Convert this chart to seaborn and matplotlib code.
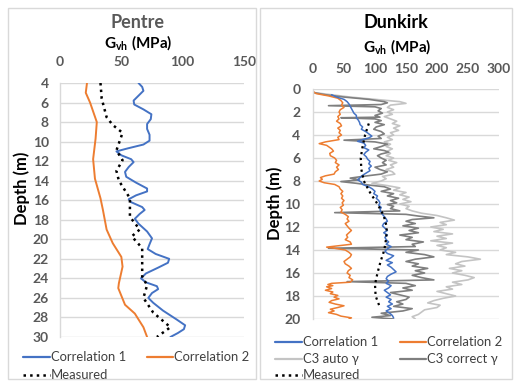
import matplotlib
matplotlib.use("Agg")
import matplotlib.pyplot as plt
from matplotlib.lines import Line2D
from matplotlib.patches import Rectangle
import seaborn as sns

sns.set_theme(style="white")
FONT = "Lato"
plt.rcParams["font.family"] = [FONT, "DejaVu Sans"]
plt.rcParams["mathtext.fontset"] = "custom"
plt.rcParams["mathtext.rm"] = FONT
plt.rcParams["mathtext.bf"] = FONT + ":bold"

# ---------------- Pentre data ----------------
pentre_corr1_depth = [4.0, 4.4, 4.8, 5.3, 5.8, 6.2, 6.7, 7.2, 7.7, 8.2, 8.7, 9.3, 9.9, 10.3, 10.7, 11.0, 11.4, 11.8, 12.1,
                      12.6, 13.1, 13.6, 14.2, 14.8, 15.1, 15.5, 15.9, 16.2, 16.7, 17.0, 17.4, 17.9, 18.4, 19.2, 19.9,
                      20.5, 21.0, 21.5, 22.0, 22.4, 22.9, 23.5, 24.0, 24.4, 24.8, 25.1, 25.5, 26.0, 26.5, 27.3, 28.2,
                      28.8, 29.2, 29.6, 30.0]
pentre_corr1_val = [64, 67, 68, 64, 60, 60.5, 68, 74.5, 74, 71, 71, 73, 73, 68, 55, 46, 50, 58, 60,
                    56, 53, 54, 62, 71, 71, 62, 56, 58, 67, 69, 65, 61, 64, 71, 75,
                    73, 71.5, 78, 89, 88, 80, 70, 66, 70, 79, 80, 75, 72, 76, 84, 95,
                    102, 101, 96, 90]

pentre_corr2_depth = [4, 5, 6, 8, 9.7, 11.8, 13.8, 15.8, 17, 19, 20.4, 21.8, 22.8, 24.5, 25, 26.7, 27.6, 29, 30]
pentre_corr2_val = [22, 21, 24.5, 30, 29, 27, 28.5, 33, 35, 38, 43, 50, 51, 48, 47.5, 53, 61, 68, 71]

pentre_meas_depth = [4, 5.6, 7.5, 8.3, 9.1, 10.9, 11.9, 13.0, 14.0, 15.8, 17.7, 19.0, 19.7, 20.9, 23.8, 24.7, 26.0, 27.5, 29.0, 30.0]
pentre_meas_val = [33, 34, 38, 43, 51, 46, 51, 46, 48, 57, 57, 65, 58.5, 67, 67, 71, 68, 76, 90, 79]

# ---------------- Dunkirk data ----------------
dk_corr1_depth = [0.5, 0.7, 0.9, 1.1, 1.3, 1.5, 1.7, 1.9, 2.1, 2.3, 2.5, 2.7, 2.9, 3.1, 3.3, 3.5, 3.7, 3.9, 4.1, 4.25, 4.4, 4.55, 4.7, 4.9,
                  5.1, 5.3, 5.5, 5.7, 5.9, 6.1, 6.3, 6.5, 6.7, 6.9, 7.1, 7.3, 7.5, 7.7, 7.9, 8.1, 8.3, 8.5, 8.7, 8.9, 9.1, 9.3,
                  9.5, 9.7, 9.9, 10.1, 10.3, 10.5, 10.7, 10.9, 11.1, 11.3, 11.5, 11.7, 11.9, 12.1, 12.3, 12.5, 12.7, 12.9, 13.1,
                  13.3, 13.5, 13.7, 13.9, 14.1, 14.3, 14.5, 14.7, 14.9, 15.1, 15.3, 15.5, 15.7, 15.9, 16.1, 16.3, 16.5, 16.7,
                  16.9, 17.1, 17.3, 17.5, 17.7, 17.9, 18.1, 18.3, 18.5, 18.7, 18.9, 19.1, 19.3, 19.5, 19.7, 19.9]
dk_corr1_val = [30, 38, 50, 55, 58, 60, 62, 64, 66, 70, 70, 73, 75, 76, 80, 78, 85, 90, 95, 90, 80, 72, 82, 85,
                82, 90, 85, 82, 86, 88, 92, 90, 94, 90, 92, 86, 80, 76, 72, 78, 80, 90, 96, 100, 98, 104,
                102, 106, 108, 106, 110, 108, 110, 112, 115, 118, 120, 114, 112, 116, 120, 114, 120, 116, 118,
                122, 118, 126, 120, 116, 120, 130, 125, 118, 128, 120, 126, 130, 134, 126, 120, 118, 122,
                118, 126, 122, 115, 120, 125, 118, 126, 122, 128, 120, 126, 118, 124, 128, 130]

dk_corr2_depth = [0.2, 0.4, 0.6, 0.8, 1.0, 1.2, 1.4, 1.6, 1.8, 2.0, 2.2, 2.4, 2.6, 2.8, 3.0, 3.2, 3.4, 3.6, 3.8, 4.0, 4.2, 4.4,
                  4.6, 4.75, 4.9, 5.05, 5.2, 5.4, 5.6, 5.8, 6.0, 6.2, 6.4, 6.6, 6.8, 7.0, 7.2, 7.4, 7.55, 7.7, 7.85, 8.0,
                  8.15, 8.3, 8.5, 8.7, 8.9, 9.1, 9.3, 9.5, 9.7, 9.9, 10.1, 10.3, 10.5, 10.7, 10.9, 11.1, 11.3, 11.5, 11.7,
                  11.9, 12.1, 12.3, 12.5, 12.7, 12.9, 13.1, 13.3, 13.5, 13.65, 13.75, 13.85, 14.0, 14.2, 14.4, 14.6, 14.8,
                  15.0, 15.2, 15.4, 15.6, 15.8, 16.0, 16.2, 16.4, 16.6, 16.8, 16.9, 17.0, 17.1, 17.2, 17.35, 17.5, 17.65,
                  17.8, 17.95, 18.1, 18.25, 18.4, 18.55, 18.7, 18.85, 19.0, 19.15, 19.3, 19.45, 19.6, 19.75, 19.9, 20.0]
dk_corr2_val = [0, 5, 25, 40, 45, 48, 46, 50, 44, 42, 44, 40, 42, 38, 44, 46, 40, 44, 42, 46, 40, 42,
                20, 10, 22, 26, 30, 33, 27, 28, 35, 38, 36, 42, 38, 41, 36, 34, 20, 12, 15, 10,
                18, 35, 42, 44, 48, 45, 48, 46, 50, 47, 49, 44, 47, 45, 52, 57, 55, 58, 52,
                55, 58, 62, 58, 54, 56, 52, 60, 62, 38, 22, 35, 52, 58, 62, 60, 55,
                50, 52, 58, 62, 57, 55, 60, 58, 64, 60, 30, 24, 32, 22, 30, 20, 32,
                28, 40, 34, 42, 30, 26, 36, 50, 40, 28, 34, 25, 38, 45, 62, 58]

dk_auto_depth = [0.3, 0.5, 0.7, 0.9, 1.1, 1.25, 1.4, 1.6, 1.8, 2.0, 2.2, 2.4, 2.6, 2.8, 3.0, 3.2, 3.4, 3.6, 3.8, 4.0, 4.2, 4.4,
                 4.6, 4.8, 5.0, 5.2, 5.4, 5.6, 5.8, 6.0, 6.2, 6.4, 6.6, 6.8, 7.0, 7.2, 7.4, 7.6, 7.8, 8.0, 8.2, 8.4, 8.6,
                 8.8, 9.0, 9.2, 9.4, 9.6, 9.8, 10.0, 10.2, 10.4, 10.6, 10.8, 11.0, 11.2, 11.4, 11.6, 11.8, 12.0, 12.2,
                 12.4, 12.6, 12.8, 13.0, 13.2, 13.4, 13.6, 13.8, 14.0, 14.2, 14.4, 14.6, 14.8, 15.0, 15.2, 15.4, 15.6,
                 15.8, 16.0, 16.2, 16.4, 16.6, 16.8, 17.0, 17.2, 17.4, 17.6, 17.8, 18.0, 18.2, 18.4, 18.6, 18.8, 19.0,
                 19.2, 19.4, 19.6, 19.8, 20.0]
dk_auto_val = [0, 30, 60, 100, 140, 150, 125, 120, 130, 120, 128, 115, 125, 135, 128, 140, 130, 138, 125, 130, 120, 128,
               115, 125, 118, 128, 120, 125, 118, 130, 122, 135, 125, 130, 118, 128, 132, 112, 118, 110, 95, 120, 140,
               130, 150, 140, 155, 145, 158, 140, 155, 150, 160, 175, 200, 215, 228, 205, 215, 190, 210,
               195, 225, 200, 215, 190, 225, 200, 215, 205, 230, 215, 250, 270, 240, 230, 245, 220,
               240, 225, 245, 260, 250, 225, 240, 215, 225, 200, 215, 230, 210, 195, 185, 205, 200,
               180, 175, 170, 160, 165]

dk_correct_depth = [0.3, 0.5, 0.7, 0.9, 1.1, 1.2, 1.35, 1.45, 1.55, 1.7, 1.9, 2.1, 2.3, 2.45, 2.5, 2.6, 2.75, 2.9, 3.1, 3.3,
                    3.5, 3.7, 3.9, 4.1, 4.3, 4.45, 4.6, 4.8, 5.0, 5.2, 5.35, 5.5, 5.65, 5.8, 6.0, 6.2, 6.4, 6.6, 6.8,
                    7.0, 7.2, 7.4, 7.6, 7.75, 7.9, 8.05, 8.2, 8.35, 8.5, 8.7, 8.9, 9.1, 9.3, 9.5, 9.7, 9.9, 10.05, 10.2,
                    10.4, 10.6, 10.75, 10.9, 11.05, 11.2, 11.35, 11.5, 11.7, 11.9, 12.1, 12.3, 12.5, 12.7, 12.9, 13.1,
                    13.3, 13.5, 13.7, 13.85, 14.0, 14.2, 14.4, 14.6, 14.8, 15.0, 15.2, 15.4, 15.6, 15.8, 16.0, 16.2,
                    16.4, 16.6, 16.75, 16.9, 17.1, 17.3, 17.5, 17.7, 17.9, 18.1, 18.3, 18.5, 18.7, 18.9, 19.1, 19.3,
                    19.5, 19.7, 19.85, 20.0]
dk_correct_val = [0, 20, 50, 90, 115, 120, 110, 25, 100, 110, 105, 112, 100, 108, 45, 100, 110, 100, 115, 102,
                  98, 110, 115, 105, 110, 50, 100, 120, 110, 98, 115, 122, 110, 104, 110, 118, 112, 118, 100,
                  108, 120, 110, 80, 60, 75, 45, 70, 90, 115, 125, 110, 130, 120, 138, 125, 135, 120, 130,
                  125, 140, 35, 150, 170, 195, 160, 150, 165, 145, 170, 155, 170, 140, 160, 150,
                  178, 160, 165, 25, 170, 150, 180, 195, 165, 150, 170, 160, 185, 165, 180, 160,
                  175, 195, 55, 150, 165, 145, 160, 125, 140, 155, 150, 135, 145, 130, 160, 145,
                  110, 125, 95, 130]

dk_meas_depth = [3.0, 4.0, 5.0, 6.0, 7.0, 8.0, 9.0, 10.0, 11.0, 12.0, 13.0, 14.0, 15.0, 16.0, 17.0, 18.0, 19.0]
dk_meas_val = [90, 84, 80, 77, 78, 82, 92, 104, 114, 119, 118, 115, 109, 104, 100, 101, 108]

BLUE = "#4472C4"
ORANGE = "#ED7D31"
LGRAY = "#C4C4C4"
DGRAY = "#7F7F7F"
TXT = "#595959"
LEGTXT = "#404040"
GRID = "#D9D9D9"

W, H = 515, 383
fig = plt.figure(figsize=(W / 100, H / 100), dpi=100)
fig.patch.set_facecolor("white")


def fx(px):
    return px / W


def fy(py):
    return 1 - py / H


# panel borders
for x0, x1 in [(8, 256), (260, 512)]:
    fig.patches.append(Rectangle((fx(x0), fy(379)), fx(x1) - fx(x0), fy(8) - fy(379),
                                 transform=fig.transFigure, fill=False, edgecolor=GRID, lw=1.0))


def style_axes(ax, xmax, xstep, ymin, ymax, xpad, ypad):
    ax.set_xlim(0, xmax)
    ax.set_ylim(ymax, ymin)
    ax.set_xticks(list(range(0, xmax + 1, xstep)))
    ax.set_yticks(list(range(ymin, ymax + 1, 2)))
    ax.xaxis.tick_top()
    ax.tick_params(axis="both", length=0, labelsize=10, labelcolor=TXT)
    ax.tick_params(axis="x", pad=xpad)
    ax.tick_params(axis="y", pad=ypad)
    for lab in ax.get_xticklabels() + ax.get_yticklabels():
        lab.set_fontweight("bold")
    ax.grid(axis="y", color=GRID, lw=1.0)
    ax.grid(axis="x", visible=False)
    for s in ["top", "right", "bottom"]:
        ax.spines[s].set_visible(False)
    ax.spines["left"].set_color(GRID)
    ax.spines["left"].set_linewidth(1.0)
    ax.set_xlabel("")
    ax.set_ylabel("")


def draw(ax, x, y, color, lw, ls="-"):
    sns.lineplot(x=x, y=y, ax=ax, sort=False, estimator=None, color=color, lw=lw,
                 linestyle=ls, orient="y", legend=False)


def legend_entry(x0, x1, y, color, lw, ls, label):
    fig.add_artist(Line2D([fx(x0), fx(x1)], [fy(y), fy(y)], transform=fig.transFigure,
                          color=color, lw=lw, linestyle=ls))
    fig.text(fx(x1 + 1), fy(y), label, ha="left", va="center", fontsize=9.4, color=LEGTXT)


# ---------- Pentre ----------
axL = fig.add_axes([fx(60), fy(337), fx(244) - fx(60), fy(83) - fy(337)])
draw(axL, pentre_corr2_val, pentre_corr2_depth, ORANGE, 1.4)
draw(axL, pentre_corr1_val, pentre_corr1_depth, BLUE, 1.4)
draw(axL, pentre_meas_val, pentre_meas_depth, "black", 1.8, ":")
style_axes(axL, 150, 50, 4, 30, 11, 8)

fig.text(fx(138), fy(23), "Pentre", ha="center", va="center", fontsize=13, fontweight="bold", color=TXT)
fig.text(fx(138), fy(43), r"G$_{\mathbf{vh}}$ (MPa)", ha="center", va="center", fontsize=11,
         fontweight="bold", color="black")
fig.text(fx(22), fy(188), "Depth (m)", ha="center", va="center", rotation=90, fontsize=12,
         fontweight="bold", color="black")

legend_entry(23, 50, 357, BLUE, 1.6, "-", "Correlation 1")
legend_entry(147, 173, 357, ORANGE, 1.6, "-", "Correlation 2")
legend_entry(23, 50, 375, "black", 1.8, ":", "Measured")

# ---------- Dunkirk ----------
axR = fig.add_axes([fx(313), fy(319), fx(499) - fx(313), fy(89) - fy(319)])
draw(axR, dk_auto_val, dk_auto_depth, LGRAY, 1.2)
draw(axR, dk_correct_val, dk_correct_depth, DGRAY, 1.2)
draw(axR, dk_corr2_val, dk_corr2_depth, ORANGE, 1.1)
draw(axR, dk_corr1_val, dk_corr1_depth, BLUE, 1.1)
draw(axR, dk_meas_val, dk_meas_depth, "black", 1.6, ":")
style_axes(axR, 300, 50, 0, 20, 10, 9)

fig.text(fx(396), fy(22), "Dunkirk", ha="center", va="center", fontsize=13, fontweight="bold", color="black")
fig.text(fx(397), fy(47), r"G$_{\mathbf{vh}}$ (MPa)", ha="center", va="center", fontsize=11,
         fontweight="bold", color="black")
fig.text(fx(275), fy(203), "Depth (m)", ha="center", va="center", rotation=90, fontsize=12,
         fontweight="bold", color="black")

legend_entry(275, 302, 342, BLUE, 1.6, "-", "Correlation 1")
legend_entry(400, 426, 342, ORANGE, 1.6, "-", "Correlation 2")
legend_entry(275, 302, 359, LGRAY, 1.6, "-", "C3 auto \u03b3")
legend_entry(400, 426, 359, DGRAY, 1.6, "-", "C3 correct \u03b3")
legend_entry(275, 302, 375, "black", 1.8, ":", "Measured")

fig.savefig("out.png", dpi=100, facecolor="white")
